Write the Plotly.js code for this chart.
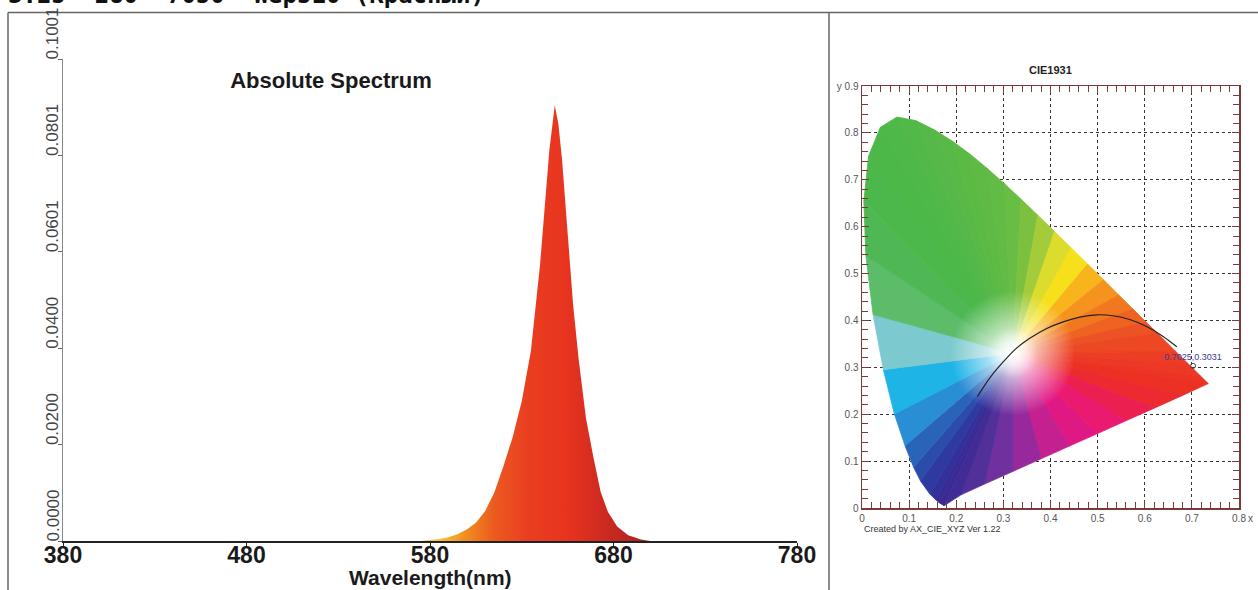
<!DOCTYPE html>
<html><head><meta charset="utf-8">
<script src="https://cdn.plot.ly/plotly-3.0.1.min.js"></script>
<style>html,body{margin:0;padding:0;overflow:hidden;background:#fff}#chart{width:1258px;height:590px}</style>
</head><body><div id="chart"></div>
<script>
// ---------- texts ----------
const headerText = "3.25 -280 -7050 -Wep510 (Красный)";
const spectrumTitle = "Absolute Spectrum";
const wavelengthTitle = "Wavelength(nm)";
const cieTitle = "CIE1931";
const cieCredit = "Created by AX_CIE_XYZ Ver 1.22";

// ---------- spectrum data ----------
const wavelengths = [380, 570, 575, 580, 585, 590, 595, 600, 605, 610, 615, 620, 625, 630, 635, 640, 642, 645, 648, 650, 652, 655, 658, 661, 665, 669, 673, 677, 682, 688, 695, 700, 780];
const intensity = [0, 0, 0, 0.0002, 0.0004, 0.0008, 0.0014, 0.0024, 0.0038, 0.0062, 0.0100, 0.0155, 0.0215, 0.0290, 0.0395, 0.0575, 0.0670, 0.0810, 0.0905, 0.0865, 0.0790, 0.0635, 0.0490, 0.0378, 0.0255, 0.0175, 0.0102, 0.0060, 0.0030, 0.0012, 0.0003, 0, 0];
const xTickVals = [380, 480, 580, 680, 780];
const xTickText = ["380", "480", "580", "680", "780"];
const yTickVals = [0, 0.02002, 0.04004, 0.06006, 0.08008, 0.1001];
const yTickText = ["0.0000", "0.0200", "0.0400", "0.0601", "0.0801", "0.1001"];

// ---------- CIE 1931 data ----------
const locusX = [0.1741, 0.1644, 0.1566, 0.1440, 0.1241, 0.1096, 0.0913, 0.0687, 0.0454, 0.0235, 0.0082, 0.0039, 0.0139, 0.0389, 0.0743, 0.1142, 0.1547, 0.1929, 0.2296, 0.2658, 0.3016, 0.3373, 0.3731, 0.4087, 0.4441, 0.4788, 0.5125, 0.5448, 0.5752, 0.6029, 0.6270, 0.6658, 0.6915, 0.7190, 0.7347, 0.68, 0.62, 0.56, 0.50, 0.44, 0.38, 0.32, 0.26, 0.21, 0.1741];
const locusY = [0.0050, 0.0109, 0.0177, 0.0297, 0.0578, 0.0868, 0.1327, 0.2007, 0.2950, 0.4127, 0.5384, 0.6548, 0.7502, 0.8120, 0.8338, 0.8262, 0.8059, 0.7816, 0.7543, 0.7243, 0.6923, 0.6589, 0.6245, 0.5896, 0.5547, 0.5202, 0.4866, 0.4544, 0.4242, 0.3965, 0.3725, 0.3340, 0.3083, 0.2809, 0.2653, 0.240, 0.213, 0.186, 0.159, 0.132, 0.105, 0.078, 0.051, 0.028, 0.0050];
const locusColor = ["#3a2a92", "#372c96", "#34309a", "#2f3aa0", "#2c4cac", "#2a64b8", "#2a8ed4", "#1eb4e6", "#7ccad0", "#5cbc6a", "#4fb854", "#4cb84c", "#4cb848", "#4eb848", "#52b848", "#56b848", "#58b946", "#5bba44", "#5eba44", "#62bb44", "#68bd44", "#7cc040", "#a4cc3a", "#dcdc2c", "#f6e01c", "#f8b41c", "#f6921e", "#f27820", "#ee6222", "#ec5224", "#ec4824", "#ec3e24", "#ec3824", "#ec3424", "#ec3024", "#ec2a30", "#ec2050", "#ea1a70", "#e01884", "#c42090", "#98299c", "#70309e", "#52309a", "#402c94", "#3a2a92"];
const whitePoint = [0.32, 0.33];
const planckX = [0.245, 0.271, 0.300, 0.328, 0.356, 0.392, 0.427, 0.462, 0.498, 0.533, 0.568, 0.604, 0.639, 0.668];
const planckY = [0.238, 0.277, 0.312, 0.341, 0.362, 0.383, 0.397, 0.407, 0.412, 0.410, 0.402, 0.387, 0.366, 0.344];
const pointX = [0.7025];
const pointY = [0.3031];
const pointLabel = ["0.7025,0.3031"];
const cieXTickVals = [0, 0.1, 0.2, 0.3, 0.4, 0.5, 0.6, 0.7, 0.8];
const cieXTickText = ["0", "0.1", "0.2", "0.3", "0.4", "0.5", "0.6", "0.7", "0.8"];
const cieYTickVals = [0, 0.1, 0.2, 0.3, 0.4, 0.5, 0.6, 0.7, 0.8, 0.9];
const cieYTickText = ["0", "0.1", "0.2", "0.3", "0.4", "0.5", "0.6", "0.7", "0.8", "y 0.9"];

// ---------- geometry helpers (pixels -> paper) ----------
const W = 1258, H = 590;
const px = v => v / W;
const py = v => (H - v) / H;

const traces = [];
traces.push({
  x: wavelengths, y: intensity, type: 'scatter', mode: 'lines',
  line: {width: 0, color: '#e8381f'},
  fill: 'tozeroy',
  fillgradient: {
    type: 'horizontal', start: 585, stop: 700,
    colorscale: [[0, '#f6c03a'], [0.12, '#f1901f'], [0.26, '#ec5a20'], [0.42, '#e93e20'], [0.6, '#e8341f'], [0.74, '#d42c20'], [0.86, '#c02620'], [1, '#a82020']]
  },
  xaxis: 'x', yaxis: 'y', hoverinfo: 'skip', showlegend: false
});

for (let i = 0; i < locusX.length - 1; i++) {
  traces.push({
    x: [whitePoint[0], locusX[i], locusX[i + 1], whitePoint[0]],
    y: [whitePoint[1], locusY[i], locusY[i + 1], whitePoint[1]],
    type: 'scatter', mode: 'lines', fill: 'toself',
    fillcolor: locusColor[i], line: {color: locusColor[i], width: 0.8},
    xaxis: 'x2', yaxis: 'y2', hoverinfo: 'skip', showlegend: false
  });
}
traces.push({
  x: [whitePoint[0]], y: [whitePoint[1]], type: 'scatter', mode: 'markers',
  marker: {size: 125, color: 'rgba(255,255,255,0)', gradient: {type: 'radial', color: 'rgba(255,255,255,1)'}, line: {width: 0}},
  xaxis: 'x2', yaxis: 'y2', hoverinfo: 'skip', showlegend: false
});
traces.push({
  x: [whitePoint[0]], y: [whitePoint[1]], type: 'scatter', mode: 'markers',
  marker: {size: 50, color: 'rgba(255,255,255,0)', gradient: {type: 'radial', color: 'rgba(255,255,255,0.85)'}, line: {width: 0}},
  xaxis: 'x2', yaxis: 'y2', hoverinfo: 'skip', showlegend: false
});
traces.push({
  x: planckX, y: planckY, type: 'scatter', mode: 'lines',
  line: {color: '#222', width: 1.2, shape: 'spline'},
  xaxis: 'x2', yaxis: 'y2', hoverinfo: 'skip', showlegend: false
});
traces.push({
  x: pointX, y: pointY, type: 'scatter', mode: 'markers+text',
  marker: {symbol: 'circle-open', size: 5, color: '#444'},
  text: pointLabel, textposition: 'top center',
  textfont: {family: 'Liberation Sans', size: 9, color: '#3a3a96'},
  xaxis: 'x2', yaxis: 'y2', hoverinfo: 'skip', showlegend: false
});

const cieAxisColor = '#7a3a3a';
const annotations = [
  {text: '<b>' + headerText + '</b>', xref: 'paper', yref: 'paper', x: px(6), y: py(11), xanchor: 'left', yanchor: 'bottom', showarrow: false,
   font: {family: 'DejaVu Sans Mono', size: 24, color: '#111'}},
  {text: wavelengthTitle, xref: 'paper', yref: 'paper', x: px(430), y: py(577), xanchor: 'center', yanchor: 'middle', showarrow: false,
   font: {family: 'Liberation Sans', size: 21, weight: 'bold', color: '#1a1a1a'}},
  {text: cieTitle, xref: 'paper', yref: 'paper', x: px(1050), y: py(70), xanchor: 'center', yanchor: 'middle', showarrow: false,
   font: {family: 'Liberation Sans', size: 11, weight: 'bold', color: '#222'}},
  {text: cieCredit, xref: 'paper', yref: 'paper', x: px(862), y: py(529), xanchor: 'left', yanchor: 'middle', showarrow: false,
   font: {family: 'Liberation Sans', size: 9, color: '#333'}},
  {text: 'x', xref: 'paper', yref: 'paper', x: px(1250), y: py(518), xanchor: 'center', yanchor: 'middle', showarrow: false,
   font: {family: 'Liberation Sans', size: 10, color: '#555'}}
];
yTickVals.forEach((v, i) => {
  annotations.push({
    text: yTickText[i], xref: 'paper', yref: 'y', x: px(64), y: v, yshift: -3,
    xanchor: 'right', yanchor: 'bottom', textangle: -90, showarrow: false,
    font: {family: 'Liberation Sans', size: 17, color: '#444'}
  });
});

const layout = {
  width: W, height: H,
  margin: {l: 0, r: 0, t: 0, b: 0},
  paper_bgcolor: '#fff', plot_bgcolor: 'rgba(0,0,0,0)',
  showlegend: false,
  title: {
    text: spectrumTitle, x: px(331), xanchor: 'center', xref: 'paper',
    y: py(80), yanchor: 'middle', yref: 'paper',
    font: {family: 'Liberation Sans', size: 22, weight: 'bold', color: '#1a1a1a'}
  },
  xaxis: {
    domain: [px(63), px(797)], range: [380, 780], anchor: 'y',
    tickmode: 'array', tickvals: xTickVals, ticktext: xTickText,
    ticks: 'outside', ticklen: 5, tickcolor: '#222', tickwidth: 1,
    ticklabelstandoff: -12,
    showline: true, linecolor: '#222', linewidth: 1.5,
    showgrid: false, zeroline: false,
    tickfont: {family: 'Liberation Sans', size: 23, weight: 'bold', color: '#1a1a1a'}
  },
  yaxis: {
    domain: [py(541), py(59)], range: [0, 0.1001], anchor: 'x',
    tickmode: 'array', tickvals: yTickVals, showticklabels: false,
    ticks: 'outside', ticklen: 4, tickcolor: '#666',
    showline: true, linecolor: '#888', linewidth: 1,
    showgrid: false, zeroline: false
  },
  xaxis2: {
    domain: [px(862), px(1239)], range: [0, 0.8], anchor: 'y2',
    tickmode: 'array', tickvals: cieXTickVals, ticktext: cieXTickText,
    ticks: 'inside', ticklen: 7, tickcolor: cieAxisColor,
    showline: true, linecolor: cieAxisColor, linewidth: 1.5, mirror: 'allticks',
    showgrid: true, gridcolor: '#333', griddash: 'dot', gridwidth: 1, zeroline: false,
    minor: {tickmode: 'linear', tick0: 0, dtick: 0.02, ticks: 'inside', ticklen: 6, tickcolor: cieAxisColor, showgrid: false},
    tickfont: {family: 'Liberation Sans', size: 10, color: '#555'}
  },
  yaxis2: {
    domain: [py(508), py(86)], range: [0, 0.9], anchor: 'x2',
    tickmode: 'array', tickvals: cieYTickVals, ticktext: cieYTickText,
    ticks: 'inside', ticklen: 7, tickcolor: cieAxisColor,
    showline: true, linecolor: cieAxisColor, linewidth: 1.5, mirror: 'allticks',
    showgrid: true, gridcolor: '#333', griddash: 'dot', gridwidth: 1, zeroline: false,
    minor: {tickmode: 'linear', tick0: 0, dtick: 0.02, ticks: 'inside', ticklen: 6, tickcolor: cieAxisColor, showgrid: false},
    tickfont: {family: 'Liberation Sans', size: 10, color: '#555'}
  },
  annotations: annotations,
  shapes: [
    {type: 'line', xref: 'paper', yref: 'paper', x0: px(8), x1: 1, y0: py(12.5), y1: py(12.5), line: {color: '#666', width: 1.5}},
    {type: 'line', xref: 'paper', yref: 'paper', x0: px(8), x1: px(8), y0: 0, y1: py(12.5), line: {color: '#666', width: 1.5}},
    {type: 'line', xref: 'paper', yref: 'paper', x0: px(829), x1: px(829), y0: 0, y1: py(12.5), line: {color: '#666', width: 1.5}}
  ]
};

Plotly.newPlot('chart', traces, layout, {staticPlot: true, displayModeBar: false});
</script>
</body></html>
